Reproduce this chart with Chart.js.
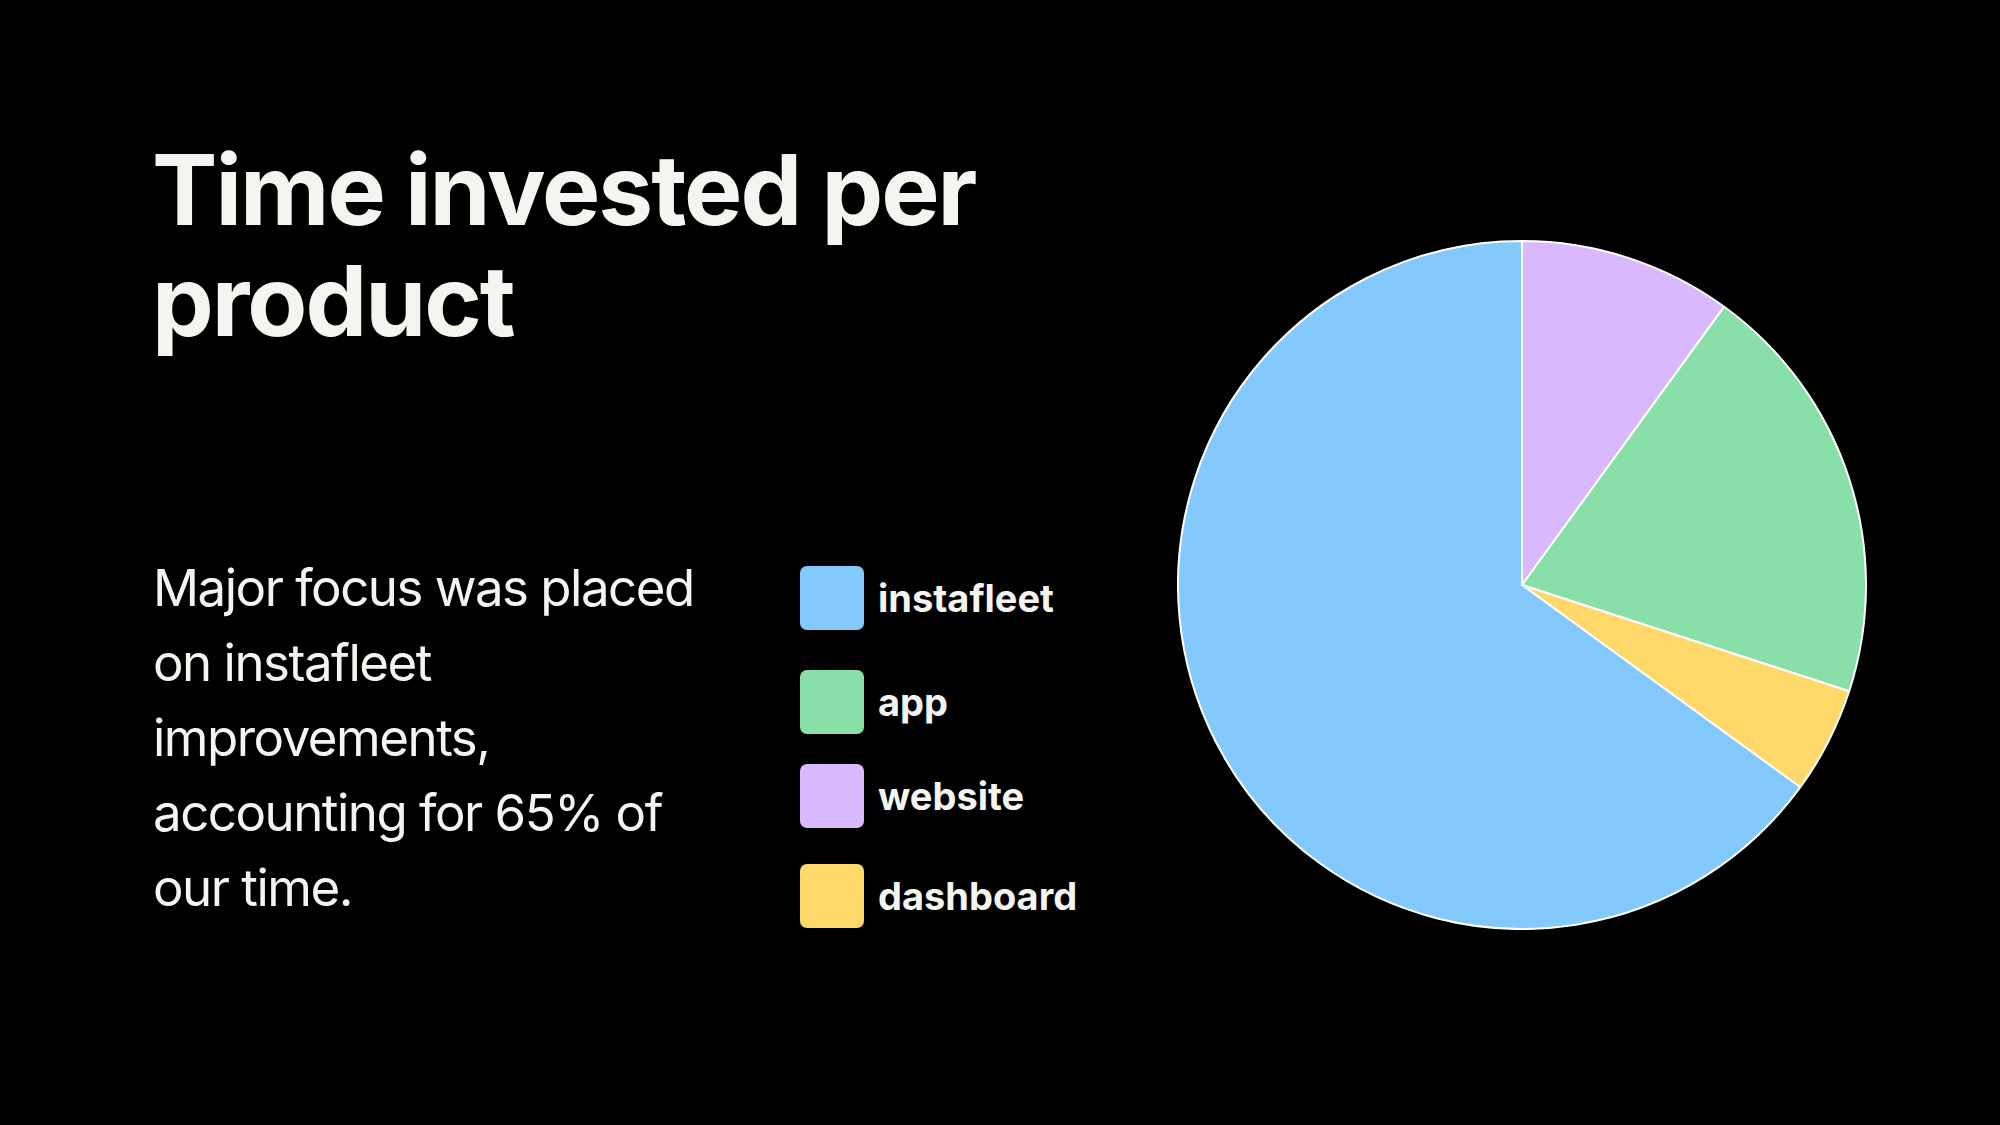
<!DOCTYPE html>
<html>
<head>
<meta charset="utf-8">
<script src="https://cdn.jsdelivr.net/npm/chart.js@4.4.0/dist/chart.umd.min.js"></script>
<style>
    html, body {
        margin: 0;
        padding: 0;
        width: 2000px;
        height: 1125px;
        background: #000;
        overflow: hidden;
        font-family: 'Inter', 'Noto Sans', sans-serif;
        color: #f4f4f0;
    }
    #title {
        position: absolute;
        left: 152px;
        top: 134px;
        margin: 0;
        font-size: 98px;
        line-height: 111px;
        font-weight: 700;
        letter-spacing: -2px;
    }
    #note {
        position: absolute;
        left: 153px;
        top: 550px;
        margin: 0;
        font-size: 51px;
        line-height: 75px;
        font-weight: 400;
        letter-spacing: -1.5px;
    }
    #legend {
        position: absolute;
        left: 800px;
        top: 566px;
        margin: 0;
        padding: 0;
        list-style: none;
    }
    #legend li {
        display: flex;
        align-items: center;
        height: 64px;
        font-size: 38px;
        font-weight: 700;
    }
    #legend li + li { margin-top: 36px; }
    #legend li:nth-child(2) { margin-top: 40px; }
    #legend li:nth-child(3) { margin-top: 30px; }
    #legend .box {
        width: 64px;
        height: 64px;
        border-radius: 7px;
        margin-right: 14px;
    }
    #pieWrap {
        position: absolute;
        left: 1177px;
        top: 240px;
        width: 690px;
        height: 690px;
    }
</style>
</head>
<body>
<h1 id="title">Time invested per<br>product</h1>
<p id="note">Major focus was placed<br>on instafleet<br>improvements,<br>accounting for 65% of<br>our time.</p>
<ul id="legend"></ul>
<div id="pieWrap"><canvas id="pieChart"></canvas></div>

<script>
// Slices in drawing order, clockwise from 12 o'clock
const labels = ['website', 'app', 'dashboard', 'instafleet'];
const shares = [10, 20, 5, 65];
const colors = ['#dab8fd', '#88e0a8', '#fed96a', '#84c9fd'];

// Order the legend shows them in
const legendOrder = ['instafleet', 'app', 'website', 'dashboard'];

function buildLegend() {
    const list = document.getElementById('legend');
    legendOrder.forEach(name => {
        const idx = labels.indexOf(name);
        const li = document.createElement('li');
        const box = document.createElement('span');
        box.className = 'box';
        box.style.background = colors[idx];
        li.appendChild(box);
        li.appendChild(document.createTextNode(name));
        list.appendChild(li);
    });
}

function drawPie() {
    const ctx = document.getElementById('pieChart');
    new Chart(ctx, {
        type: 'pie',
        data: {
            labels: labels,
            datasets: [{
                data: shares,
                backgroundColor: colors,
                borderColor: '#ffffff',
                borderWidth: 2
            }]
        },
        options: {
            responsive: true,
            maintainAspectRatio: false,
            animation: false,
            devicePixelRatio: 1,
            layout: { padding: 0 },
            plugins: {
                legend: { display: false },
                tooltip: { enabled: false }
            }
        }
    });
}

buildLegend();
drawPie();
</script>
</body>
</html>
